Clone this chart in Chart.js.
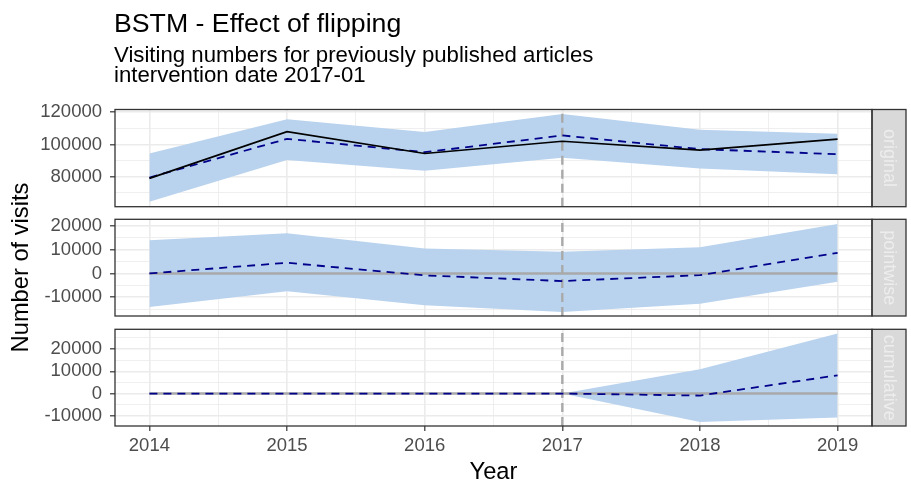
<!DOCTYPE html>
<html>
<head>
<meta charset="utf-8">
<script src="https://cdn.jsdelivr.net/npm/chart.js@4.4.1/dist/chart.umd.min.js"></script>
<style>
    body { margin: 0; background: #ffffff; }
    #wrap { position: relative; width: 911px; height: 483px; }
    #wrap canvas { position: absolute; left: 0; top: 0; }
</style>
</head>
<body>
<div id="wrap">
    <canvas id="panel-original" width="911" height="483"></canvas>
    <canvas id="panel-pointwise" width="911" height="483"></canvas>
    <canvas id="panel-cumulative" width="911" height="483"></canvas>
</div>
<script>
const years = [2014, 2015, 2016, 2017, 2018, 2019];
const xTickLabels = ['2014', '2015', '2016', '2017', '2018', '2019'];
const interventionYear = 2017;

// original panel
const observed = [79000, 108000, 94400, 102000, 96500, 103300];
const predicted = [79500, 103500, 95200, 105600, 97100, 94000];
const predLower = [64500, 90300, 83700, 91800, 85100, 81600];
const predUpper = [94400, 115700, 107800, 118900, 109100, 106600];

// pointwise panel
const pointEffect = [0, 4500, -800, -3200, -700, 8700];
const pointLower = [-14100, -7500, -13400, -16200, -12700, -3500];
const pointUpper = [14000, 16900, 10500, 9100, 11000, 20800];

// cumulative panel
const cumEffect = [0, 0, 0, 0, -900, 8200];
const cumLower = [0, 0, 0, 0, -12800, -10800];
const cumUpper = [0, 0, 0, 0, 10900, 27000];

const yTicksOriginal = [80000, 100000, 120000];
const yTicksPointwise = [-10000, 0, 10000, 20000];
const yTicksCumulative = [-10000, 0, 10000, 20000];

const FONT = "'Liberation Sans', Arial, Helvetica, sans-serif";
const BAND = '#B9D3EE';
const GRID = '#EBEBEB';
const DARK = '#333333';

const toPts = arr => years.map((x, i) => ({ x: x, y: arr[i] }));

function halfSteps(from, to, step) {
    const out = [];
    for (let v = from; v <= to + 1e-9; v += step / 2) out.push(v);
    return out;
}

const panelFrame = {
    id: 'panelFrame',
    afterDraw(chart, args, opts) {
        const ctx = chart.ctx;
        const a = chart.chartArea;
        ctx.save();
        // strip on the right
        ctx.fillStyle = '#D9D9D9';
        ctx.fillRect(a.right, a.top, 34, a.bottom - a.top);
        ctx.strokeStyle = DARK;
        ctx.lineWidth = 1.3;
        ctx.strokeRect(a.right, a.top, 34, a.bottom - a.top);
        ctx.strokeRect(a.left, a.top, a.right - a.left, a.bottom - a.top);
        ctx.translate(a.right + 17, (a.top + a.bottom) / 2);
        ctx.rotate(Math.PI / 2);
        ctx.fillStyle = '#EDEDED';
        ctx.font = '18px ' + FONT;
        ctx.textAlign = 'center';
        ctx.textBaseline = 'middle';
        ctx.fillText(opts.name, 0, 0);
        ctx.restore();

        ctx.save();
        ctx.fillStyle = '#000000';
        ctx.textAlign = 'left';
        ctx.textBaseline = 'alphabetic';
        if (opts.name === 'original') {
            ctx.font = '26.7px ' + FONT;
            ctx.fillText('BSTM - Effect of flipping', 114, 31.5);
            ctx.font = '22.2px ' + FONT;
            ctx.fillText('Visiting numbers for previously published articles', 114, 62);
            ctx.fillText('intervention date 2017-01', 114, 82);
        }
        if (opts.name === 'pointwise') {
            ctx.translate(21, 267.5);
            ctx.rotate(-Math.PI / 2);
            ctx.font = '23.7px ' + FONT;
            ctx.textAlign = 'center';
            ctx.textBaseline = 'middle';
            ctx.fillText('Number of visits', 0, 0);
        }
        if (opts.name === 'cumulative') {
            ctx.font = '23.7px ' + FONT;
            ctx.textAlign = 'center';
            ctx.fillText('Year', (a.left + a.right) / 2, 479);
        }
        ctx.restore();
    }
};

function makePanel(canvasId, p) {
    const ctx = document.getElementById(canvasId).getContext('2d');
    const xGrid = halfSteps(years[0], years[years.length - 1], 1);
    const yGrid = halfSteps(p.yTicks[0] - (p.yTicks[1] - p.yTicks[0]), p.yTicks[p.yTicks.length - 1] + (p.yTicks[1] - p.yTicks[0]), p.yTicks[1] - p.yTicks[0])
        .filter(v => v >= p.yMin && v <= p.yMax);
    const xMajor = v => years.includes(v);
    const yMajor = v => p.yTicks.includes(v);

    const datasets = [
        { data: toPts(p.lower), borderColor: 'rgba(0,0,0,0)', pointRadius: 0, fill: false, order: 6 },
        { data: toPts(p.upper), borderColor: 'rgba(0,0,0,0)', backgroundColor: BAND, pointRadius: 0, fill: '-1', order: 5 },
        { data: [{ x: interventionYear, y: p.yMin }, { x: interventionYear, y: p.yMax }],
          borderColor: '#A9A9A9', borderWidth: 2.4, borderDash: [9, 5], pointRadius: 0, fill: false, order: 4 }
    ];
    if (p.zeroLine) {
        datasets.push({ data: [{ x: years[0], y: 0 }, { x: years[years.length - 1], y: 0 }],
            borderColor: '#A9A9A9', borderWidth: 2.4, pointRadius: 0, fill: false, order: 3 });
    }
    datasets.push({ data: toPts(p.effect), borderColor: '#00008B', borderWidth: 1.8, borderDash: [8, 6],
        pointRadius: 0, fill: false, order: 2 });
    if (p.observed) {
        datasets.push({ data: toPts(p.observed), borderColor: '#000000', borderWidth: 1.7,
            pointRadius: 0, fill: false, order: 1 });
    }

    const axisH = p.bottomAxis ? 57 : 0;

    new Chart(ctx, {
        type: 'line',
        data: { datasets: datasets },
        plugins: [panelFrame],
        options: {
            responsive: false,
            animation: false,
            devicePixelRatio: 1,
            layout: { padding: { left: 0, right: 39, top: p.top, bottom: 483 - p.bottom - axisH } },
            plugins: {
                legend: { display: false },
                tooltip: { enabled: false },
                panelFrame: { name: p.name }
            },
            scales: {
                x: {
                    type: 'linear',
                    min: 2013.75,
                    max: 2019.25,
                    afterBuildTicks: s => { s.ticks = xGrid.map(v => ({ value: v })); },
                    afterFit: s => { s.height = axisH; },
                    border: { display: false },
                    grid: {
                        color: GRID,
                        lineWidth: c => (c.tick && xMajor(c.tick.value)) ? 1.6 : 0.8,
                        drawTicks: p.bottomAxis,
                        tickLength: 5,
                        tickWidth: 1.2,
                        tickColor: c => (c.tick && xMajor(c.tick.value)) ? DARK : 'rgba(0,0,0,0)'
                    },
                    ticks: {
                        display: p.bottomAxis,
                        autoSkip: false,
                        maxRotation: 0,
                        padding: 4,
                        color: '#4D4D4D',
                        font: { family: FONT, size: 18.5 },
                        callback: v => xMajor(v) ? xTickLabels[years.indexOf(v)] : ''
                    }
                },
                y: {
                    min: p.yMin,
                    max: p.yMax,
                    afterBuildTicks: s => { s.ticks = yGrid.map(v => ({ value: v })); },
                    afterFit: s => { s.width = 115; },
                    border: { display: false },
                    grid: {
                        color: GRID,
                        lineWidth: c => (c.tick && yMajor(c.tick.value)) ? 1.6 : 0.8,
                        drawTicks: true,
                        tickLength: 5,
                        tickWidth: 1.2,
                        tickColor: c => (c.tick && yMajor(c.tick.value)) ? DARK : 'rgba(0,0,0,0)'
                    },
                    ticks: {
                        autoSkip: false,
                        padding: 8,
                        color: '#4D4D4D',
                        font: { family: FONT, size: 18.5 },
                        callback: v => yMajor(v) ? String(v) : ''
                    }
                }
            }
        }
    });
}

document.addEventListener('DOMContentLoaded', () => {
    makePanel('panel-original', {
        name: 'original', top: 109.5, bottom: 206.7, yMin: 61400, yMax: 121700,
        yTicks: yTicksOriginal, lower: predLower, upper: predUpper,
        effect: predicted, observed: observed, zeroLine: false, bottomAxis: false
    });
    makePanel('panel-pointwise', {
        name: 'pointwise', top: 219.3, bottom: 316, yMin: -17900, yMax: 22800,
        yTicks: yTicksPointwise, lower: pointLower, upper: pointUpper,
        effect: pointEffect, zeroLine: true, bottomAxis: false
    });
    makePanel('panel-cumulative', {
        name: 'cumulative', top: 329.3, bottom: 426, yMin: -14600, yMax: 28900,
        yTicks: yTicksCumulative, lower: cumLower, upper: cumUpper,
        effect: cumEffect, zeroLine: true, bottomAxis: true
    });
});
</script>
</body>
</html>
